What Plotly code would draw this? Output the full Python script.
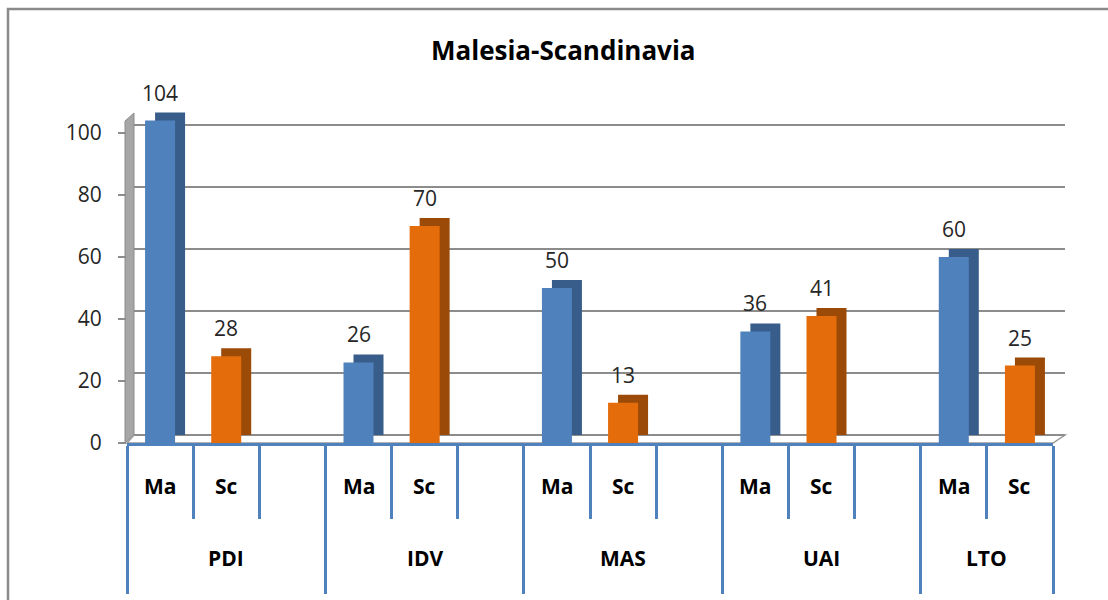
import plotly.graph_objects as go

# ---------------- data ----------------
groups = ["PDI", "IDV", "MAS", "UAI", "LTO"]
series_names = ["Ma", "Sc"]
ma_values = [104, 26, 50, 36, 60]
sc_values = [28, 70, 13, 41, 25]
y_ticks = [0, 20, 40, 60, 80, 100]

# ---------------- style ----------------
W, H = 1108, 600
FONT = "Open Sans"
BLUE, BLUE_DARK = "#4F81BD", "#385D8A"
ORANGE, ORANGE_DARK = "#E46C0A", "#9C4A07"
GRID = "#8C8C8C"

def px(x):
    return x / W

def py(y):
    return 1 - y / H

# layout geometry (pixels)
X_LEFT, X_RIGHT = 127, 1053
Y_BOTTOM, Y_TOP = 443, 102
Y_MAX = 110
DEPTH_PX_X, DEPTH_PX_Y = 10, 8
unit_px = (Y_BOTTOM - Y_TOP) / Y_MAX
depth_units = DEPTH_PX_Y / unit_px
slots_per_group = 3
n_slots = slots_per_group * (len(groups) - 1) + len(series_names)
slot_px = (X_RIGHT - X_LEFT) / n_slots
bar_w = 30 / slot_px
depth_x = DEPTH_PX_X / slot_px

ma_x = [slots_per_group * g for g in range(len(groups))]
sc_x = [slots_per_group * g + 1 for g in range(len(groups))]

fig = go.Figure()

# back-wall grid subplot (x / y), drawn first
fig.add_trace(go.Scatter(x=[0], y=[0], mode="markers", marker=dict(opacity=0),
                         hoverinfo="skip", showlegend=False, xaxis="x", yaxis="y"))

# bars on x2 / y2
for xs, vals, front, dark in [(ma_x, ma_values, BLUE, BLUE_DARK),
                              (sc_x, sc_values, ORANGE, ORANGE_DARK)]:
    fig.add_trace(go.Bar(x=xs, y=vals, base=[depth_units] * len(vals),
                         width=bar_w, offset=-bar_w / 2 + depth_x,
                         marker=dict(color=dark, line=dict(width=0)),
                         showlegend=False, hoverinfo="skip",
                         xaxis="x2", yaxis="y2"))
    fig.add_trace(go.Bar(x=xs, y=vals, width=bar_w, offset=-bar_w / 2,
                         marker=dict(color=front, line=dict(width=0)),
                         showlegend=False, xaxis="x2", yaxis="y2"))

annotations = []
# value labels
for xs, vals in [(ma_x, ma_values), (sc_x, sc_values)]:
    for x, v in zip(xs, vals):
        annotations.append(dict(x=x, y=v, xref="x2", yref="y2", text=str(v),
                                showarrow=False, yanchor="bottom", yshift=12,
                                font=dict(family=FONT, size=21, color="#262626")))
# inner category labels
for xs, name in [(ma_x, "Ma"), (sc_x, "Sc")]:
    for x in xs:
        annotations.append(dict(x=x, y=py(486), xref="x2", yref="paper", text="<b>%s</b>" % name,
                                showarrow=False, yanchor="middle",
                                font=dict(family=FONT, size=21, color="#000000")))
# group labels
for g, name in enumerate(groups):
    start = slots_per_group * g - 0.5
    end = min(slots_per_group * (g + 1), n_slots) - 0.5
    annotations.append(dict(x=(start + end) / 2, y=py(558), xref="x2", yref="paper",
                            text="<b>%s</b>" % name, showarrow=False, yanchor="middle",
                            font=dict(family=FONT, size=21, color="#000000")))
# title
annotations.append(dict(x=px(563), y=py(50), xref="paper", yref="paper",
                        text="<b>Malesia-Scandinavia</b>", showarrow=False,
                        xanchor="center", yanchor="middle",
                        font=dict(family=FONT, size=26, color="#000000")))

group_bounds = [slots_per_group * g - 0.5 for g in range(len(groups))] + [n_slots - 0.5]
slot_bounds = [i - 0.5 for i in range(n_slots + 1)]

shapes = [
    # chart border
    dict(type="rect", xref="paper", yref="paper", x0=px(8), x1=px(W + 20), y0=py(H + 20), y1=py(9),
         line=dict(color="#8A8A8A", width=2.5), fillcolor="rgba(0,0,0,0)", layer="below"),
    # left wall
    dict(type="path", xref="paper", yref="paper",
         path="M %f %f L %f %f L %f %f L %f %f Z" % (px(125), py(443), px(125), py(121),
                                                      px(134), py(113), px(134), py(435)),
         fillcolor="#A6A6A6", line=dict(color="#8C8C8C", width=1), layer="below"),
    # floor
    dict(type="path", xref="paper", yref="paper",
         path="M %f %f L %f %f L %f %f L %f %f Z" % (px(127), py(443), px(1053), py(443),
                                                      px(1065), py(435), px(134), py(435)),
         fillcolor="#FFFFFF", line=dict(color="#9A9A9A", width=1.5), layer="below"),
]

fig.update_layout(
    width=W, height=H,
    margin=dict(l=0, r=0, t=0, b=0, pad=0),
    paper_bgcolor="white", plot_bgcolor="rgba(0,0,0,0)",
    barmode="overlay", showlegend=False,
    annotations=annotations, shapes=shapes,
    xaxis=dict(domain=[px(134), px(1065)], range=[0, 1], visible=False, automargin=False),
    yaxis=dict(domain=[py(Y_BOTTOM), py(Y_TOP)], range=[-depth_units, Y_MAX - depth_units],
               tickvals=y_ticks, showticklabels=False, ticks="", showgrid=True,
               gridcolor=GRID, gridwidth=2, zeroline=False, showline=False, automargin=False),
    xaxis2=dict(domain=[px(X_LEFT), px(X_RIGHT)], range=[-0.5, n_slots - 0.5], anchor="y2",
                tickvals=group_bounds, ticks="outside", ticklen=148, tickwidth=3,
                tickcolor=BLUE, showticklabels=False, showgrid=False, zeroline=False,
                showline=True, linecolor=BLUE, linewidth=2.5, automargin=False,
                minor=dict(tickvals=slot_bounds, ticks="outside", ticklen=73,
                           tickwidth=3, tickcolor=BLUE, showgrid=False)),
    yaxis2=dict(domain=[py(Y_BOTTOM), py(Y_TOP)], range=[0, Y_MAX], anchor="x2",
                tickvals=y_ticks, ticks="outside", ticklen=8, tickwidth=2, tickcolor=GRID,
                ticklabelstandoff=12, automargin=False,
                tickfont=dict(family=FONT, size=21, color="#262626"),
                showgrid=False, zeroline=False, showline=False),
)

fig.write_html("out.html", config={"displayModeBar": False},
               post_script="document.body.style.margin='0px';document.body.style.overflow='hidden';")
